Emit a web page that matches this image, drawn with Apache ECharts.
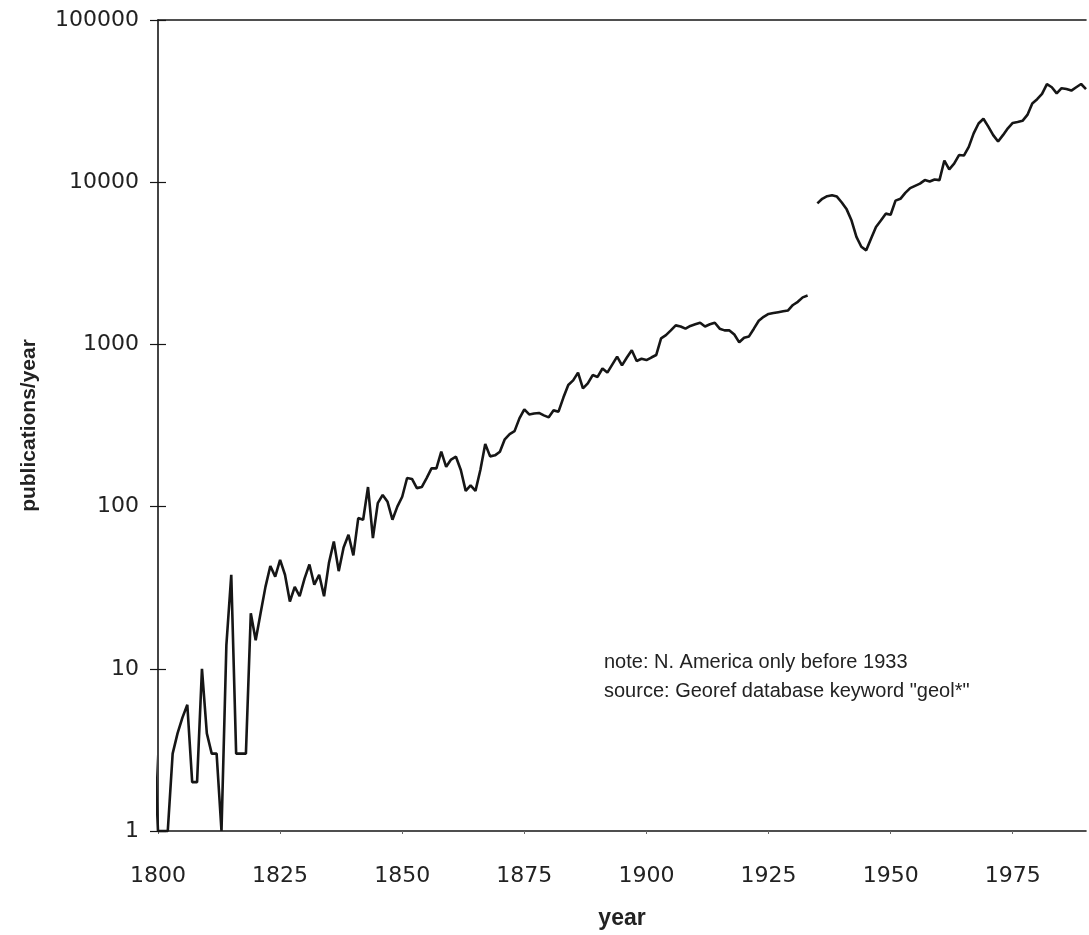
<!DOCTYPE html>
<html><head><meta charset="utf-8">
<script src="https://cdn.jsdelivr.net/npm/echarts@6/dist/echarts.min.js"></script>
<style>html,body{margin:0;padding:0;background:#fff}#c{width:1089px;height:935px}</style>
</head><body><div id="c"></div>
<script>
// Segment A: North America only (before 1933)
const yearsA = [1798,1799,1800,1801,1802,1803,1804,1805,1806,1807,1808,1809,1810,1811,1812,1813,1814,1815,1816,1817,1818,1819,
1820,1821,1822,1823,1824,1825,1826,1827,1828,1829,1830,1831,1832,1833,1834,1835,1836,1837,1838,1839,
1840,1841,1842,1843,1844,1845,1846,1847,1848,1849,1850,1851,1852,1853,1854,1855,1856,1857,1858,1859,
1860,1861,1862,1863,1864,1865,1866,1867,1868,1869,1870,1871,1872,1873,1874,1875,1876,1877,1878,1879,
1880,1881,1882,1883,1884,1885,1886,1887,1888,1889,1890,1891,1892,1893,1894,1895,1896,1897,1898,1899,
1900,1901,1902,1903,1904,1905,1906,1907,1908,1909,1910,1911,1912,1913,1914,1915,1916,1917,1918,1919,
1920,1921,1922,1923,1924,1925,1926,1927,1928,1929,1930,1931,1932,1933];
const pubsA = [1,5,1,1,1,3,4,5,6,2,2,10,4,3,3,1,14,38,3,3,3,22,
15,22,32,43,37,47,38,26,32,28,36,44,33,38,28,45,61,40,56,67,
50,85,83,132,64,105,118,107,83,100,115,150,148,130,132,150,172,172,218,176,
195,203,168,125,135,125,168,243,204,207,218,260,280,292,350,398,370,375,378,365,
355,392,385,470,562,600,670,535,575,647,630,710,670,750,840,743,830,920,790,815,
800,830,860,1090,1140,1220,1310,1290,1250,1300,1330,1360,1290,1330,1360,1250,1220,1220,1150,1030,
1100,1120,1250,1400,1480,1540,1560,1580,1600,1620,1750,1830,1950,2000];
// Segment B: worldwide (from 1933 on)
const yearsB = [1935,1936,1937,1938,1939,1940,1941,1942,1943,1944,1945,1946,1947,1948,1949,
1950,1951,1952,1953,1954,1955,1956,1957,1958,1959,1960,1961,1962,1963,1964,1965,1966,1967,1968,1969,
1970,1971,1972,1973,1974,1975,1976,1977,1978,1979,1980,1981,1982,1983,1984,1985,1986,1987,1988,1989,1990];
const pubsB = [7400,7900,8200,8300,8150,7500,6800,5800,4600,4000,3800,4500,5300,5800,6400,
6300,7700,7900,8600,9200,9500,9800,10300,10100,10400,10300,13600,12000,13000,14700,14600,16500,20000,23000,24600,
22000,19500,17800,19500,21500,23200,23500,23900,26000,30600,32500,35000,40200,38500,35300,38000,37500,36700,38500,40300,37500];
const xTickLabels = ['1800','1825','1850','1875','1900','1925','1950','1975'];
const yTickLabels = ['1','10','100','1000','10000','100000'];
const noteLines = ['note: N. America only before 1933', 'source: Georef database keyword "geol*"'];

const chart = echarts.init(document.getElementById('c'), null, {renderer: 'canvas'});
const pair = (xs, ys) => xs.map((x, i) => [x, ys[i]]);
const ink = '#161616';
const tickFont = {fontFamily: 'DejaVu Sans', fontSize: 22, color: '#222'};

chart.setOption({
  animation: false,
  backgroundColor: '#fff',
  grid: {left: 158, right: 3, top: 20, bottom: 104},
  xAxis: [{
    type: 'value', min: 1800, max: 1990, interval: 25,
    axisLine: {lineStyle: {color: ink, width: 1.6}},
    axisTick: {length: 3, lineStyle: {color: '#666', width: 1}},
    axisLabel: Object.assign({margin: 34, showMaxLabel: false,
      formatter: v => xTickLabels.includes(String(v)) ? String(v) : ''}, tickFont),
    splitLine: {show: false},
    name: 'year', nameLocation: 'middle', nameGap: 76,
    nameTextStyle: {fontFamily: 'Liberation Sans', fontSize: 23, fontWeight: 'bold', color: '#222'}
  }, {
    type: 'value', position: 'top', min: 1800, max: 1990,
    axisLine: {show: true, lineStyle: {color: ink, width: 1.6}},
    axisTick: {show: false}, axisLabel: {show: false}, splitLine: {show: false}
  }],
  yAxis: [{
    type: 'log', logBase: 10, min: 1, max: 100000,
    axisLine: {show: true, lineStyle: {color: ink, width: 1.6}},
    axisTick: {show: true, length: 8, lineStyle: {color: ink, width: 1.2}},
    axisLabel: Object.assign({margin: 19,
      formatter: v => yTickLabels[Math.round(Math.log10(v))]}, tickFont),
    splitLine: {show: false},
    name: 'publications/year', nameLocation: 'middle', nameGap: 118, nameRotate: 90,
    nameTextStyle: {fontFamily: 'Liberation Sans', fontSize: 21, fontWeight: 'bold', color: '#222'}
  }, {
    type: 'log', logBase: 10, min: 1, max: 100000, position: 'left',
    axisLine: {show: false},
    axisTick: {show: true, inside: true, length: 8, lineStyle: {color: ink, width: 1.2}},
    axisLabel: {show: false}, splitLine: {show: false}
  }],
  series: [{
    type: 'line', data: pair(yearsA, pubsA), showSymbol: false, clip: false,
    lineStyle: {color: ink, width: 2.6}
  }, {
    type: 'line', data: pair(yearsB, pubsB), showSymbol: false,
    lineStyle: {color: ink, width: 2.6}
  }],
  graphic: [{
    type: 'text', left: 604, top: 648,
    style: {text: noteLines.join('\n'), fontFamily: 'Liberation Sans', fontSize: 20,
      lineHeight: 29, fill: '#222'}
  }]
});
</script></body></html>
